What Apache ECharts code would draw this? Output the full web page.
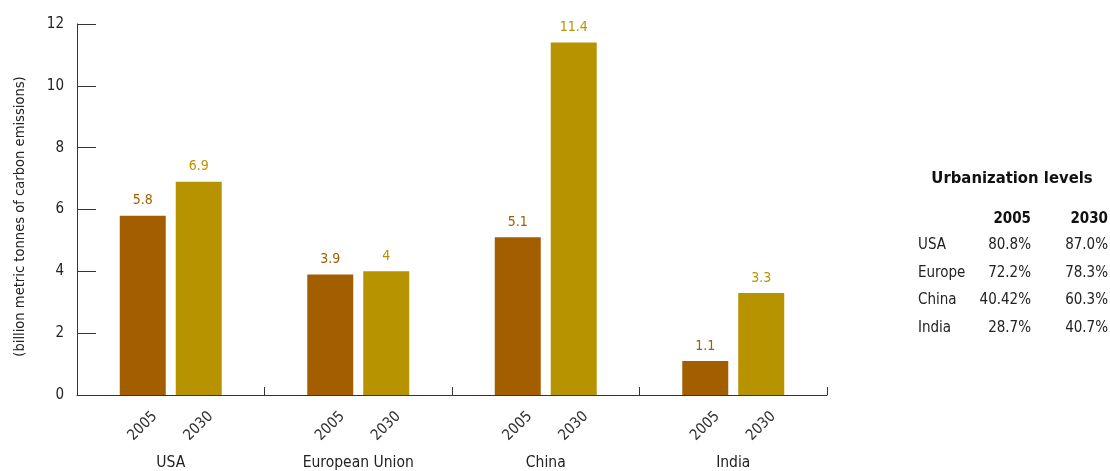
<!DOCTYPE html>
<html>
<head>
<meta charset="utf-8">
<script src="https://cdn.jsdelivr.net/npm/echarts@6/dist/echarts.min.js"></script>
<style>
html,body{margin:0;padding:0;background:#fff;}
#chart{width:1110px;height:471px;}
</style>
</head>
<body>
<div id="chart"></div>
<script>
// ---- data ----
var categories = ['USA', 'European Union', 'China', 'India'];
var years = ['2005', '2030'];
var values2005 = [5.8, 3.9, 5.1, 1.1];
var values2030 = [6.9, 4, 11.4, 3.3];
var yTicks = [0, 2, 4, 6, 8, 10, 12];
var yAxisTitle = '(billion metric tonnes of carbon emissions)';

var tableTitle = 'Urbanization levels';
var tableRegions = ['USA', 'Europe', 'China', 'India'];
var urban2005 = ['80.8%', '72.2%', '40.42%', '28.7%'];
var urban2030 = ['87.0%', '78.3%', '60.3%', '40.7%'];

// ---- styles ----
var FONT = '"DejaVu Sans Condensed", "Liberation Sans Narrow", sans-serif';
var colors = ['#A35E00', '#B89300'];
var axisColor = '#333';

var chart = echarts.init(document.getElementById('chart'));

function makeSeries(name, vals, color) {
  return {
    name: name,
    type: 'bar',
    data: vals,
    barWidth: 46,
    barGap: '21.7%',
    itemStyle: { color: color },
    label: {
      show: true, position: 'top', distance: 8,
      color: color, fontFamily: FONT, fontSize: 14
    },
    markPoint: {
      symbol: 'circle', symbolSize: 0, silent: true,
      label: {
        show: true, formatter: name, rotate: 45,
        align: 'right', verticalAlign: 'middle',
        position: 'inside', offset: [-5, 22],
        color: axisColor, fontFamily: FONT, fontSize: 15
      },
      data: categories.map(function (c, i) { return { coord: [i, 0], value: 0 }; })
    }
  };
}

var graphics = [];
graphics.push({
  type: 'text', x: 1012, y: 179,
  style: { text: tableTitle, font: 'bold 16.5px ' + FONT, fill: '#111', align: 'center', verticalAlign: 'middle' }
});
var col1 = 1031, col2 = 1108, rowX = 918;
graphics.push({ type: 'text', x: col1, y: 219, style: { text: years[0], font: 'bold 15px ' + FONT, fill: '#111', align: 'right', verticalAlign: 'middle' } });
graphics.push({ type: 'text', x: col2, y: 219, style: { text: years[1], font: 'bold 15px ' + FONT, fill: '#111', align: 'right', verticalAlign: 'middle' } });
tableRegions.forEach(function (r, i) {
  var y = 245 + i * 27.7;
  graphics.push({ type: 'text', x: rowX, y: y, style: { text: r, font: '15px ' + FONT, fill: '#222', align: 'left', verticalAlign: 'middle' } });
  graphics.push({ type: 'text', x: col1, y: y, style: { text: urban2005[i], font: '15px ' + FONT, fill: '#222', align: 'right', verticalAlign: 'middle' } });
  graphics.push({ type: 'text', x: col2, y: y, style: { text: urban2030[i], font: '15px ' + FONT, fill: '#222', align: 'right', verticalAlign: 'middle' } });
});

chart.setOption({
  animation: false,
  backgroundColor: '#fff',
  textStyle: { fontFamily: FONT },
  grid: { left: 77, right: 283, top: 24, bottom: 75, containLabel: false },
  xAxis: {
    type: 'category',
    data: categories,
    axisLine: { show: true, lineStyle: { color: axisColor, width: 1 } },
    axisTick: { show: true, inside: true, length: 8, lineStyle: { color: axisColor } },
    axisLabel: { margin: 60, color: '#222', fontSize: 15.5, fontFamily: FONT, interval: 0 }
  },
  yAxis: {
    type: 'value',
    min: yTicks[0], max: yTicks[yTicks.length - 1], interval: 2,
    name: yAxisTitle, nameLocation: 'middle', nameGap: 49,
    nameTextStyle: { color: '#222', fontSize: 14.6, fontFamily: FONT, padding: [0, 14, 0, 0] },
    axisLine: { show: true, lineStyle: { color: axisColor, width: 1 } },
    axisTick: { show: true, inside: true, length: 19, lineStyle: { color: axisColor } },
    axisLabel: { margin: 13, color: '#222', fontSize: 15, fontFamily: FONT },
    splitLine: { show: false }
  },
  series: [
    makeSeries(years[0], values2005, colors[0]),
    makeSeries(years[1], values2030, colors[1])
  ],
  graphic: graphics
});
</script>
</body>
</html>
